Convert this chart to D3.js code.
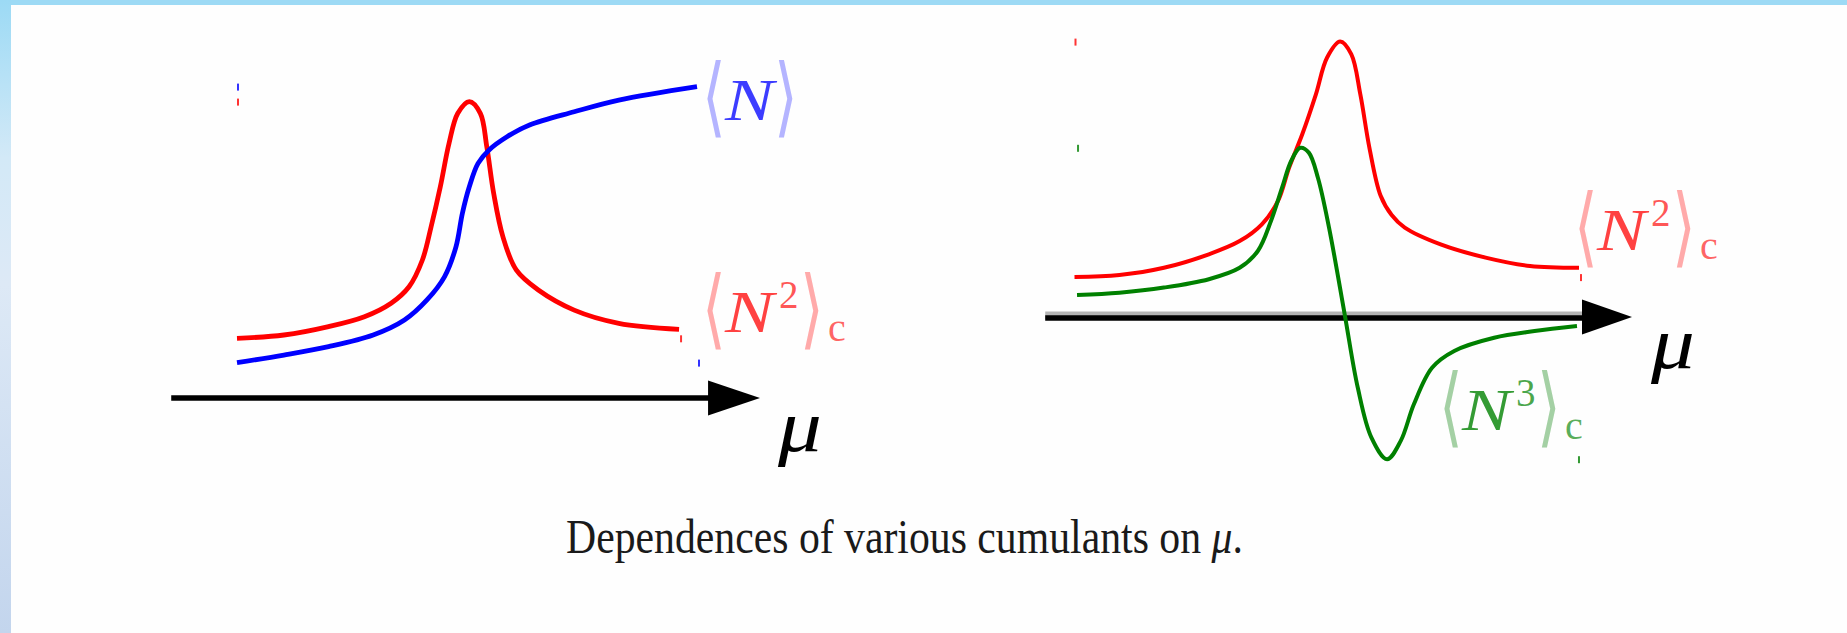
<!DOCTYPE html>
<html>
<head>
<meta charset="utf-8">
<script src="https://cdn.jsdelivr.net/npm/d3@7"></script>
<style>
  body { margin: 0; background: #fefefe; overflow: hidden; }
  svg { display: block; }
</style>
</head>
<body>
<svg id="fig" width="1847" height="633"></svg>
<script>
/* values, in arbitrary units (mu along x, cumulant up) */
/* left panel: <N> and <N^2>_c */
const leftMean = [[0, 1.18], [1.02, 1.43], [1.99, 1.71], [2.96, 2.10], [3.64, 2.60], [4.13, 3.27],
  [4.51, 4.04], [4.76, 5.04], [4.90, 6.16], [5.05, 7.04], [5.24, 7.82], [5.48, 8.27], [5.87, 8.71],
  [6.36, 9.10], [7.33, 9.54], [8.30, 9.93], [10.0, 10.38]];
const leftVar = [[0, 1.99], [1.02, 2.10], [1.99, 2.38], [2.77, 2.71], [3.35, 3.16], [3.74, 3.71],
  [4.03, 4.60], [4.22, 5.71], [4.42, 7.04], [4.61, 8.49], [4.80, 9.49], [5.05, 9.88], [5.29, 9.49],
  [5.43, 8.38], [5.58, 6.82], [5.78, 5.38], [6.07, 4.27], [6.55, 3.60], [7.33, 2.93], [8.30, 2.49],
  [9.61, 2.29]];

/* right panel: <N^2>_c and <N^3>_c */
const rightVar = [[0.01, 1.33], [0.90, 1.40], [1.78, 1.64], [2.67, 2.09], [3.28, 2.53], [3.72, 3.09],
  [4.04, 3.87], [4.26, 4.98], [4.52, 6.09], [4.79, 7.42], [5.01, 8.64], [5.27, 9.18], [5.49, 8.76],
  [5.67, 7.42], [5.85, 5.64], [6.07, 4.05], [6.29, 3.40], [6.55, 2.98], [7.26, 2.42], [8.15, 1.98],
  [9.03, 1.70], [10.0, 1.64]];
const rightSkew = [[0.06, 0.73], [0.90, 0.81], [1.78, 0.98], [2.67, 1.26], [3.28, 1.64], [3.64, 2.20],
  [3.90, 3.20], [4.12, 4.31], [4.30, 5.20], [4.48, 5.64], [4.65, 5.48], [4.83, 4.64], [5.05, 2.98],
  [5.36, 0.09], [5.62, -2.36], [5.89, -4.02], [6.20, -4.74], [6.47, -4.13], [6.73, -2.91],
  [7.09, -1.69], [7.53, -1.13], [8.32, -0.69], [9.12, -0.47], [9.96, -0.30]];

/* mu-axis arrows: [start, arrowhead base, tip] in mu units */
const leftAxisMu = [-1.43, 10.24, 11.37];
const rightAxisMu = [-0.57, 10.06, 11.05];

const captionText = "Dependences of various cumulants on ";

const svg = d3.select("#fig");

/* page frame: light blue strips like the slide */
const defs = svg.append("defs");
const grad = defs.append("linearGradient").attr("id", "side").attr("x1", 0).attr("x2", 0).attr("y1", 0).attr("y2", 1);
grad.append("stop").attr("offset", "0%").attr("stop-color", "#9cdaf5");
grad.append("stop").attr("offset", "25%").attr("stop-color", "#d3e9f7");
grad.append("stop").attr("offset", "45%").attr("stop-color", "#dde9f6");
grad.append("stop").attr("offset", "100%").attr("stop-color", "#c3d5ed");
svg.append("rect").attr("width", 1847).attr("height", 633).attr("fill", "#fefefe");
svg.append("rect").attr("width", 1847).attr("height", 5).attr("fill", "#9ddaf5");
svg.append("rect").attr("width", 11).attr("height", 633).attr("fill", "url(#side)");

/* scales */
const xL = d3.scaleLinear().domain([0, 10]).range([237, 697]);
const yL = d3.scaleLinear().domain([0, 10]).range([398, 98]);
const xR = d3.scaleLinear().domain([0, 10]).range([1074, 1579]);
const yR = d3.scaleLinear().domain([0, 10]).range([317, 17]);

function drawArrow(g, x, y, mu, halo) {
  const [a, b, tip] = mu.map(x);
  const y0 = y(0);
  if (halo) {
    g.append("line").attr("x1", a).attr("x2", b).attr("y1", y0 - 1.5).attr("y2", y0 - 1.5)
      .attr("stroke", "#b4b4b4").attr("stroke-width", 8);
  }
  g.append("line").attr("x1", a).attr("x2", b + 2).attr("y1", y0 + (halo ? 1 : 0)).attr("y2", y0 + (halo ? 1 : 0))
    .attr("stroke", "#000").attr("stroke-width", 5.5);
  g.append("path")
    .attr("d", `M${b},${y0 - 17.5}L${tip},${y0}L${b},${y0 + 17.5}Z`)
    .attr("fill", "#000");
}

function drawCurve(g, data, x, y, color, w) {
  const line = d3.line().x(d => x(d[0])).y(d => y(d[1])).curve(d3.curveCatmullRom.alpha(0.5));
  g.append("path").datum(data).attr("d", line)
    .attr("fill", "none").attr("stroke", color).attr("stroke-width", w).attr("stroke-linejoin", "round");
  /* tiny specks the original leaves at the curve's bounding-box corners */
  const x0 = d3.min(data, d => d[0]), x1 = d3.max(data, d => d[0]);
  const top = d3.max(data, d => d[1]), bot = d3.min(data, d => d[1]);
  g.append("rect").attr("x", x(x0)).attr("y", y(top) - 3).attr("width", 2).attr("height", 7)
    .attr("fill", color).attr("opacity", 0.8);
  g.append("rect").attr("x", x(x1) + 1).attr("y", y(bot) - 3).attr("width", 2).attr("height", 7)
    .attr("fill", color).attr("opacity", 0.8);
}

/* math label <N^k>_c, X = left edge of the bracket, Y = baseline of N */
function mathLabel(parent, X, Y, sup, sub, color, pale) {
  const g = parent.append("g").attr("transform", `translate(${X},${Y})`)
    .attr("font-family", "'Liberation Serif', serif");
  const bracket = (dx, ch) => g.append("text")
    .attr("transform", `translate(${dx},6) scale(0.7,1)`)
    .attr("font-family", "'DejaVu Sans'").attr("font-size", 87).attr("fill", pale).text(ch);
  bracket(-6, "\u27E8");
  g.append("text").attr("transform", "translate(17,0) scale(1.22,1)")
    .attr("font-size", 60).attr("font-style", "italic").attr("fill", color).attr("fill-opacity", 0.85).text("N");
  if (sup) {
    g.append("text").attr("x", 71).attr("y", -24).attr("font-size", 39).attr("fill", color)
      .attr("fill-opacity", 0.75).text(sup);
    bracket(92, "\u27E9");
  } else {
    bracket(66, "\u27E9");
  }
  if (sub) {
    g.append("text").attr("x", 120).attr("y", 9).attr("font-size", 40).attr("fill", color)
      .attr("fill-opacity", 0.7).text(sub);
  }
}

function muLabel(g, X, Y) {
  g.append("text").attr("transform", `translate(${X},${Y}) scale(1.18,1)`)
    .attr("font-family", "'Liberation Serif', serif")
    .attr("font-style", "italic").attr("font-size", 74).attr("fill", "#000").text("\u03BC");
}

/* left panel */
const gl = svg.append("g");
drawArrow(gl, xL, yL, leftAxisMu, false);
drawCurve(gl, leftVar, xL, yL, "#ff0000", 4.8);
drawCurve(gl, leftMean, xL, yL, "#0000ff", 4.8);
mathLabel(gl, 708, 120, null, null, "#1a1aff", "#b4b4ff");
mathLabel(gl, 708, 332, "2", "c", "#ff2020", "#ffaaaa");
muLabel(gl, 778, 451);

/* right panel */
const gr = svg.append("g");
drawArrow(gr, xR, yR, rightAxisMu, true);
drawCurve(gr, rightVar, xR, yR, "#ff0000", 4);
drawCurve(gr, rightSkew, xR, yR, "#008000", 4);
mathLabel(gr, 1580, 250, "2", "c", "#ff2020", "#ffaaaa");
mathLabel(gr, 1445, 430, "3", "c", "#108a10", "#a4d0a4");
muLabel(gr, 1651, 368);

/* caption, squeezed horizontally to the width it has in the original */
const cap = svg.append("text")
  .attr("font-family", "'Liberation Serif', serif").attr("font-size", 48).attr("fill", "#1a1a1a");
cap.append("tspan").text(captionText);
cap.append("tspan").attr("font-style", "italic").text("\u03BC");
cap.append("tspan").text(".");
const capW = cap.node().getComputedTextLength();
cap.attr("transform", `translate(566,553) scale(${677 / capW},1)`);
</script>
</body>
</html>
